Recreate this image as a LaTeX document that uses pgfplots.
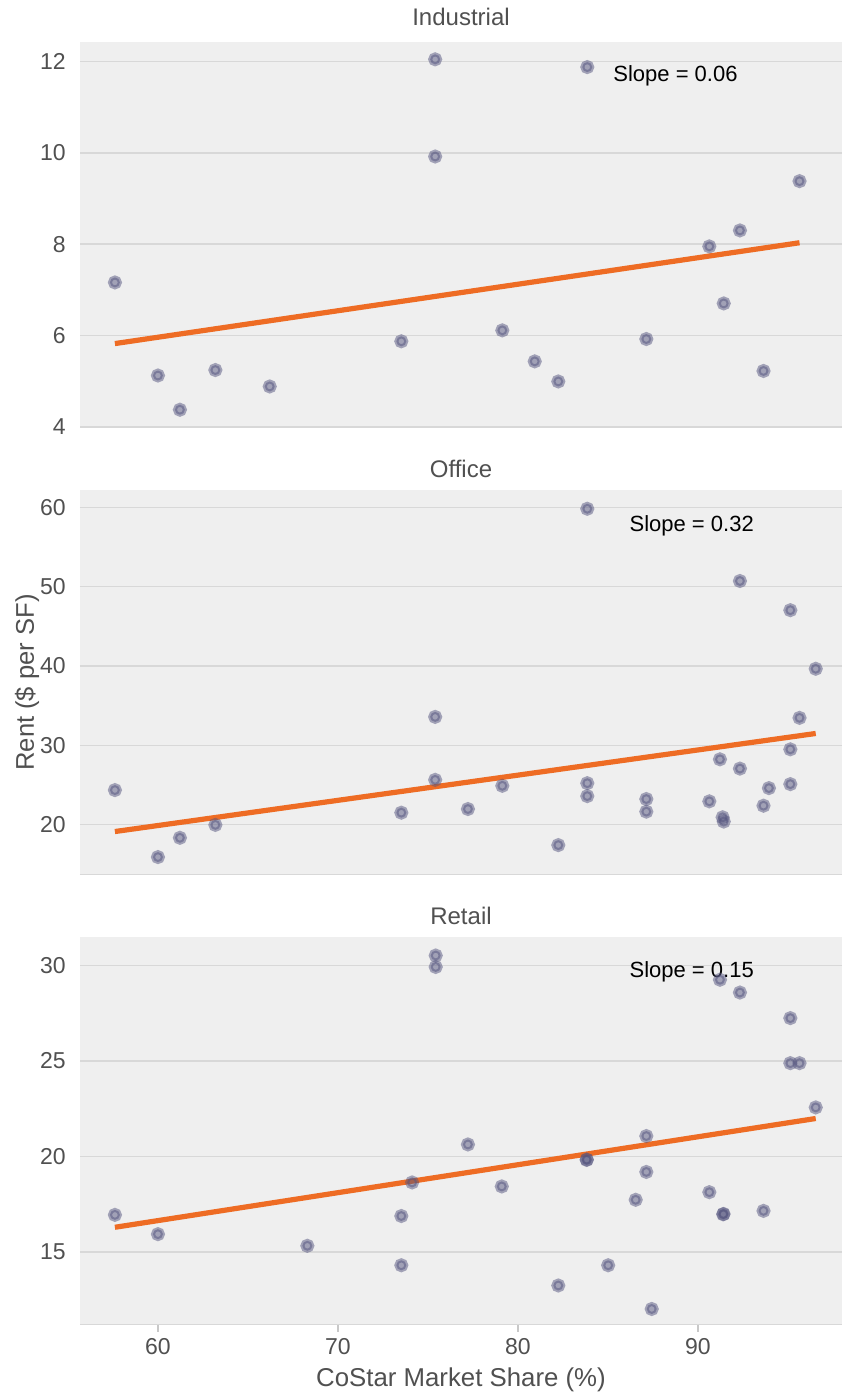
\documentclass[border=0pt]{standalone}
\usepackage{fontspec}
\setmainfont{Liberation Sans}
\usepackage{pgfplots}
\usepackage{pgfplotstable}
\pgfplotsset{compat=1.18}
\definecolor{bg}{HTML}{EFEFEF}
\definecolor{gridc}{HTML}{D8D8D8}
\definecolor{tickc}{HTML}{C8C8C8}
\definecolor{ptc}{HTML}{55557F}
\definecolor{reg}{HTML}{EE6C24}
\definecolor{txt}{HTML}{505050}

\pgfplotstableread{
x y
57.61 7.16
60.00 5.12
61.22 4.37
63.19 5.24
66.21 4.88
73.52 5.87
75.40 12.05
75.40 9.92
79.13 6.11
80.93 5.43
82.24 4.99
83.85 11.88
87.13 5.92
90.63 7.95
91.43 6.70
92.33 8.30
93.64 5.22
95.64 9.38
}\indtab

\pgfplotstableread{
x y
57.61 24.35
60.00 15.90
61.22 18.33
63.19 19.96
73.52 21.50
75.40 33.58
75.40 25.64
77.22 21.96
79.13 24.89
82.24 17.41
83.85 59.83
83.85 25.22
83.85 23.59
87.13 23.22
87.13 21.63
90.63 22.93
91.22 28.23
91.37 20.92
91.43 20.38
92.33 50.72
92.33 27.06
93.64 22.38
93.94 24.60
95.13 47.04
95.13 29.49
95.13 25.10
95.64 33.46
96.54 39.65
}\offtab

\pgfplotstableread{
x y
57.61 16.94
60.00 15.93
68.30 15.32
73.52 16.88
73.52 14.30
74.12 18.64
75.43 30.53
75.43 29.93
77.22 20.63
79.10 18.43
82.24 13.24
83.82 19.84
83.82 19.82
85.01 14.30
86.54 17.73
87.13 21.07
87.13 19.19
87.43 12.01
90.63 18.13
91.22 29.26
91.40 16.97
91.42 16.99
92.33 28.59
93.64 17.15
95.13 27.25
95.13 24.89
95.64 24.89
96.54 22.57
}\rettab

\tikzset{slope/.style={anchor=west, font=\fontsize{11}{13}\selectfont, text=black, inner sep=0pt}}

\pgfplotsset{
  panel/.style={
    scale only axis,
    width=381pt,
    xmin=55.67, xmax=98.0,
    axis background/.style={fill=bg},
    axis line style={draw=none},
    tick pos=left,
    tick align=outside,
    major tick length=3.5pt,
    ytick style={draw=none},
    xtick style={draw=tickc, line width=0.7pt},
    ymajorgrids,
    grid style={gridc, line width=0.7pt},
    tick label style={font=\fontsize{11.5}{14}\selectfont, text=txt},
    /pgf/number format/assume math mode=true,
    yticklabel style={inner sep=0pt, anchor=east, xshift=-3.5pt},
    xticklabel style={inner sep=0pt, anchor=north, yshift=-3pt},
    xtick={60,70,80,90},
    title style={font=\fontsize{12}{15}\selectfont, text=txt, inner sep=0pt, anchor=center},
  },
  pts/.style={only marks, mark=*, mark size=2.5pt,
    mark options={fill=ptc, draw=ptc, line width=2pt, fill opacity=0.5, draw opacity=0.5}},
  regl/.style={no marks, color=reg, line width=2.6pt},
}

\begin{document}
\begin{tikzpicture}
\useasboundingbox (0,0) rectangle (421pt,699.5pt);

% Industrial
\begin{axis}[panel, at={(40pt,485.5pt)}, anchor=south west, height=193pt,
  ymin=3.97, ymax=12.43, ytick={4,6,8,10,12}, xticklabels={}, xtick style={draw=none},
  title={Industrial}, title style={at={(0.5,1)}, yshift=6.5pt}]
\draw[gridc, line width=0.8pt] (rel axis cs:0,0) -- (rel axis cs:1,0);
\addplot[regl] coordinates {(57.61,5.82) (95.64,8.03)};
\addplot[pts] table[x=x,y=y] {\indtab};
\node[slope] at (axis cs:85.28,11.69) {Slope = 0.06};
\end{axis}

% Office
\begin{axis}[panel, at={(40pt,262pt)}, anchor=south west, height=192.5pt,
  ymin=13.64, ymax=62.2, ytick={20,30,40,50,60}, xticklabels={}, xtick style={draw=none},
  title={Office}, title style={at={(0.5,1)}, yshift=4.5pt},
  ylabel={Rent (\$ per SF)},
  every axis y label/.style={at={(axis description cs:-0.0696,0.5)}, rotate=90, anchor=center,
    font=\fontsize{12.8}{15}\selectfont, text=txt}]
\draw[gridc, line width=0.8pt] (rel axis cs:0,0) -- (rel axis cs:1,0);
\addplot[regl] coordinates {(57.61,19.12) (96.54,31.49)};
\addplot[pts] table[x=x,y=y] {\offtab};
\node[slope] at (axis cs:86.18,57.7) {Slope = 0.32};
\end{axis}

% Retail
\begin{axis}[panel, at={(40pt,37pt)}, anchor=south west, height=194pt,
  ymin=11.17, ymax=31.5, ytick={15,20,25,30},
  title={Retail}, title style={at={(0.5,1)}, yshift=4.5pt},
  xlabel={CoStar Market Share (\%)},
  every axis x label/.style={at={(axis description cs:0.5,-0.1418)}, anchor=center,
    font=\fontsize{12.9}{15}\selectfont, text=txt}]
\draw[gridc, line width=0.8pt] (rel axis cs:0,0) -- (rel axis cs:1,0);
\addplot[regl] coordinates {(57.61,16.29) (96.54,21.99)};
\addplot[pts] table[x=x,y=y] {\rettab};
\node[slope] at (axis cs:86.18,29.65) {Slope = 0.15};
\end{axis}
\end{tikzpicture}
\end{document}
